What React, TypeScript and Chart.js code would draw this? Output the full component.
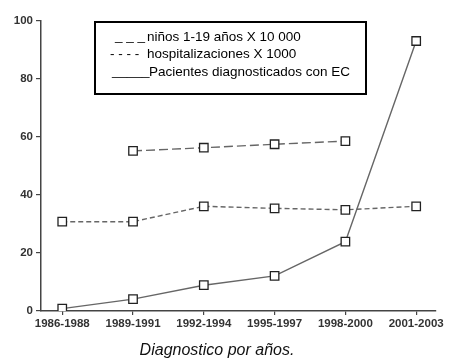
import React, { useEffect, useRef } from "react";
import { Chart, registerables } from "chart.js";

Chart.register(...registerables);

const categories = ["1986-1988", "1989-1991", "1992-1994", "1995-1997", "1998-2000", "2001-2003"];
const ninos: (number | null)[] = [null, 55.2, 56.3, 57.5, 58.6, null];
const hospitalizaciones: (number | null)[] = [30.8, 30.8, 36.1, 35.4, 34.9, 36.1];
const pacientes: (number | null)[] = [0.8, 4.1, 8.9, 12.1, 23.9, 93.1];
const yTicks = [0, 20, 40, 60, 80, 100];
const legendMarks = ["_ _ _", "- - - -", "_____"];
const legendLabels = ["niños 1-19 años X 10 000", "hospitalizaciones X 1000", "Pacientes diagnosticados con EC"];
const titleText = "Diagnostico por años.";

const toPoints = (arr: (number | null)[]) =>
  arr.map((v, i) => (v === null ? null : { x: i, y: v })).filter((p) => p !== null) as { x: number; y: number }[];

const FONT = "'Liberation Sans', Arial, sans-serif";

const overlayPlugin = {
  id: "overlay",
  afterDraw(chart: any) {
    const ctx = chart.ctx;
    ctx.save();
    // legend box
    ctx.fillStyle = "#ffffff";
    ctx.fillRect(94, 21, 272, 73);
    ctx.strokeStyle = "#000000";
    ctx.lineWidth = 2;
    ctx.strokeRect(95, 22, 271, 72);
    ctx.fillStyle = "#000000";
    ctx.font = `13.5px ${FONT}`;
    ctx.textBaseline = "alphabetic";
    ctx.textAlign = "left";
    const markX = [115, 110, 112];
    const labelX = [147, 147, 149];
    const baseY = [41, 58, 76];
    legendLabels.forEach((lbl, i) => {
      ctx.fillText(legendMarks[i], markX[i], baseY[i] + (i === 1 ? 0 : -1));
      ctx.fillText(lbl, labelX[i], baseY[i]);
    });
    // title
    ctx.font = `italic 16px ${FONT}`;
    ctx.textAlign = "center";
    ctx.fillStyle = "#111111";
    ctx.fillText(titleText, 217, 355);
    ctx.restore();
  },
};

export default function App() {
  const ref = useRef<HTMLCanvasElement | null>(null);
  useEffect(() => {
    if (!ref.current) return;
    const markerCommon = {
      pointStyle: "rect" as const,
      pointRadius: 6,
      pointBackgroundColor: "#ffffff",
      pointBorderColor: "#222222",
      pointBorderWidth: 1.3,
      borderColor: "#666666",
      borderWidth: 1.4,
      fill: false,
      tension: 0,
    };
    const chart = new Chart(ref.current, {
      type: "line",
      data: {
        datasets: [
          { label: legendLabels[0], data: toPoints(ninos), borderDash: [9, 4], ...markerCommon },
          { label: legendLabels[1], data: toPoints(hospitalizaciones), borderDash: [5, 3], ...markerCommon },
          { label: legendLabels[2], data: toPoints(pacientes), ...markerCommon },
        ],
      },
      options: {
        animation: false,
        responsive: true,
        maintainAspectRatio: false,
        layout: { padding: { top: 21, right: 19, bottom: 0, left: 0 } },
        plugins: { legend: { display: false }, title: { display: false }, tooltip: { enabled: false } },
        scales: {
          x: {
            type: "linear",
            min: -0.3,
            max: 5.28,
            afterBuildTicks: (s: any) => {
              s.ticks = categories.map((_, i) => ({ value: i }));
            },
            afterFit: (s: any) => {
              s.height = 52;
            },
            ticks: {
              callback: (v: any) => categories[v] ?? "",
              color: "#333333",
              font: { family: FONT, size: 11.5, weight: "bold" },
              padding: 2,
              maxRotation: 0,
              autoSkip: false,
            },
            grid: { drawOnChartArea: false, drawTicks: true, tickLength: 4, color: "#444444", lineWidth: 1.2 },
            border: { display: true, color: "#444444", width: 1.5 },
          },
          y: {
            type: "linear",
            min: 0,
            max: 100,
            afterBuildTicks: (s: any) => {
              s.ticks = yTicks.map((v) => ({ value: v }));
            },
            afterFit: (s: any) => {
              s.width = 41;
            },
            ticks: {
              color: "#333333",
              font: { family: FONT, size: 11.5, weight: "bold" },
              padding: 3,
            },
            grid: { drawOnChartArea: false, drawTicks: true, tickLength: 5, color: "#444444", lineWidth: 1.2 },
            border: { display: true, color: "#444444", width: 1.5 },
          },
        },
      },
      plugins: [overlayPlugin],
    });
    return () => chart.destroy();
  }, []);
  return (
    <div style={{ position: "fixed", left: 0, top: 0, width: 455, height: 363, background: "#fff" }}>
      <canvas ref={ref} />
    </div>
  );
}
